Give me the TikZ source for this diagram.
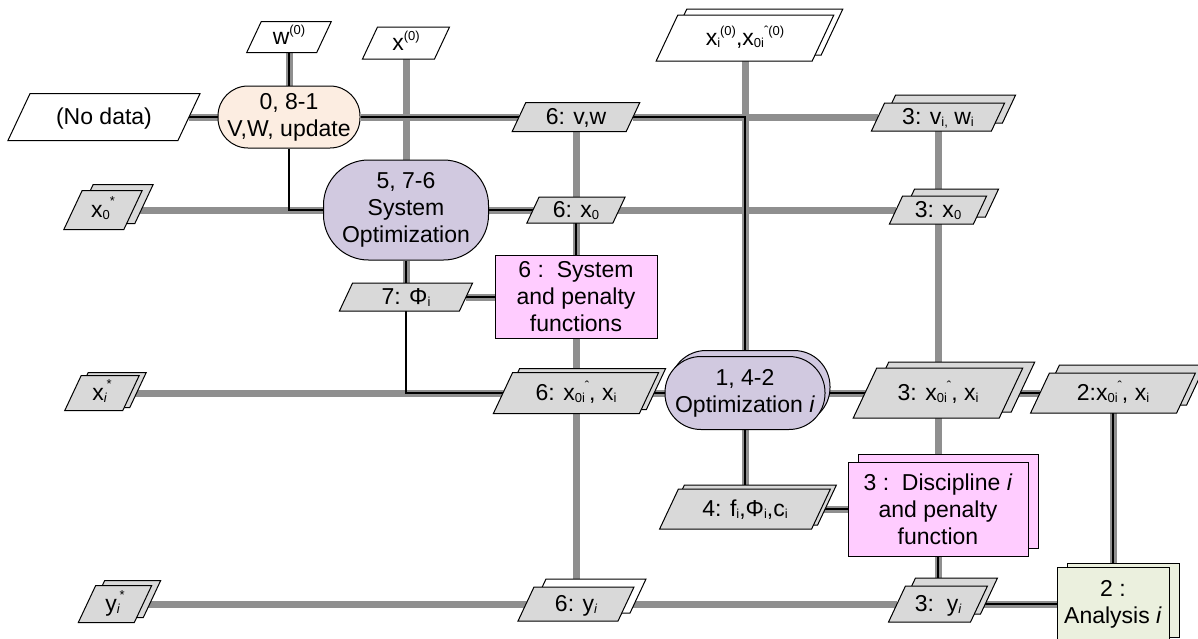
\documentclass[tikz,border=0pt]{standalone}
\usepackage{fontspec}
\setmainfont{Liberation Sans}

\definecolor{datagray}{RGB}{217,217,217}
\definecolor{wiregray}{RGB}{143,143,143}
\definecolor{optlav}{RGB}{209,201,224}
\definecolor{vwpeach}{RGB}{252,237,225}
\definecolor{pinkbox}{RGB}{255,204,255}
\definecolor{anagreen}{RGB}{235,240,222}

\pgfdeclarelayer{wires}
\pgfsetlayers{wires,main}

% small subscript / superscript pieces of the labels
\newcommand\lowtag[1]{\raisebox{-2pt}{\fontsize{13}{13}\selectfont #1}}
\newcommand\hightag[2][10pt]{\raisebox{#1}[0pt][0pt]{\fontsize{13}{13}\selectfont #2}}

\tikzset{
  dataline/.style={draw=wiregray, line width=7pt},
  procline/.style={draw=black, line width=2.5pt},
  thinproc/.style={draw=black, line width=1.8pt},
  paraedge/.style={draw=black, line width=1pt, line join=miter},
  labeltext/.style={inner sep=0pt, text height=16pt, text depth=2pt},
  procbox/.style={draw=black, line width=1pt, align=center, inner sep=0pt},
}

% parallelogram: [extra options] centre x, centre y, half width, half height, fill
\newcommand\slab[6][]{%
  \path[paraedge, fill=#6, #1]
    ({#2-#4+0.47*#5},{#3-#5}) -- ({#2+#4+0.47*#5},{#3-#5}) --
    ({#2+#4-0.47*#5},{#3+#5}) -- ({#2-#4-0.47*#5},{#3+#5}) -- cycle;}
% data block: name, x, y, half width, half height, fill, label
\newcommand\datum[7]{%
  \slab{#2}{#3}{#4}{#5}{#6}
  \node[labeltext, minimum width={2*#4}, minimum height={2*#5}] (#1) at (#2,#3) {#7};}
% stacked data block: name, x, y, half width, half height, shift of the copy, copy fill, fill, label
\newcommand\datastack[9]{%
  \slab[shift={(#6)}]{#2}{#3}{#4}{#5}{#7}
  \datum{#1}{#2}{#3}{#4}{#5}{#8}{#9}}

\begin{document}
\begin{tikzpicture}[x=1pt, y=-1pt, font=\fontsize{23}{27}\selectfont]
\useasboundingbox (0,0) rectangle (1198,638);

% ---- process blocks ----
\node[procbox, fill=vwpeach, minimum width=142, minimum height=62, rounded corners=30]
  (vw) at (289,117) {0, 8-1\\V,W, update};
\node[procbox, fill=optlav, minimum width=165, minimum height=100, rounded corners=45]
  (sysopt) at (406,210) {5, 7-6\\System\\Optimization};
\node[procbox, fill=pinkbox, minimum width=162, minimum height=83]
  (sysfun) at (576,297) {6 :~~System\\and penalty\\functions};
\node[procbox, fill=optlav, minimum width=160, minimum height=73, rounded corners=36]
  (opti-back) at (750,387) {};
\node[procbox, fill=optlav, minimum width=160, minimum height=73, rounded corners=36]
  (opti) at (745,393) {1, 4-2\\Optimization \textit{i}};
\node[procbox, fill=pinkbox, minimum width=180, minimum height=94]
  (disc-back) at (948,501) {};
\node[procbox, fill=pinkbox, minimum width=180, minimum height=94]
  (disc) at (938,509) {3 :~~Discipline \textit{i}\\and penalty\\function};
\node[procbox, fill=anagreen, minimum width=112, minimum height=74]
  (ana-back) at (1123,600) {};
\node[procbox, fill=anagreen, minimum width=112, minimum height=74]
  (ana) at (1113,604) {2 :\\Analysis \textit{i}};

% ---- data blocks ----
\datum{w0}{289}{37}{35}{15.5}{white}{w\hightag{(0)}}
\datum{x0init}{406}{43}{36}{16}{white}{x\hightag{(0)}}
\datastack{xi0init}{745}{38}{78}{23}{9,-6}{white}{white}
  {x\lowtag{i}\hightag{(0)},x\lowtag{0i}\hightag{ˆ(0)}}
\datum{nodata}{104}{117}{85}{23.5}{white}{(No data)}
\datum{vw6}{576}{117}{57}{14.5}{datagray}{6: v,w}
\datastack{vw3}{938}{117}{60}{14}{11,-8}{datagray}{datagray}{3: v\lowtag{i,} w\lowtag{i}}
\datastack{x0star}{103}{210}{30}{19.5}{11,-6}{datagray}{datagray}{x\lowtag{0}\hightag[12pt]{*}}
\datum{x0six}{576}{210}{43}{13}{datagray}{6: x\lowtag{0}}
\datastack{x0three}{938}{210}{42}{14}{12,-7}{datagray}{datagray}{3: x\lowtag{0}}
\datum{phi7}{406}{297}{60}{14}{datagray}{7: Φ\lowtag{i}}
\datastack{xistar}{102}{393}{29}{17.5}{7,-3}{datagray}{datagray}{x\lowtag{\itshape i}\hightag[12pt]{*}}
\datastack{x0isix}{576}{393}{73}{20.5}{7,-4}{datagray}{datagray}
  {6: x\lowtag{0i}\hightag{ˆ}, x\lowtag{i}}
\datastack{x0ithree}{938}{393}{73}{25}{12,-6}{datagray}{datagray}
  {3: x\lowtag{0i}\hightag{ˆ}, x\lowtag{i}}
\datastack{x0itwo}{1113}{393}{73}{20}{10,-8}{datagray}{datagray}
  {2:x\lowtag{0i}\hightag{ˆ}, x\lowtag{i}}
\datastack{f4}{745}{509}{76}{20}{6,-4}{datagray}{datagray}
  {4: f\lowtag{i},Φ\lowtag{i},c\lowtag{i}}
\datastack{yistar}{115}{604}{28}{18.5}{9,-5}{datagray}{datagray}{y\lowtag{\itshape i}\hightag[12pt]{*}}
\datastack{yisix}{576}{604}{50}{17}{12,-8}{white}{datagray}{6: y\lowtag{\itshape i}}
\datastack{yithree}{938}{604}{41}{18}{10,-8}{datagray}{datagray}{3:~~y\lowtag{\itshape i}}

% ---- connectors ----
\begin{pgfonlayer}{wires}
  % data flow
  \draw[dataline] (w0) -- (vw);
  \draw[dataline] (nodata) -- (vw) -- (vw6) -- (vw3);
  \draw[dataline] (xi0init) -- (opti);
  \draw[dataline] (x0init) -- (sysopt);
  \draw[dataline] (vw6) -- (yisix);
  \draw[dataline] (x0star) -- (sysopt) -- (x0three);
  \draw[dataline] (vw3) -- (yithree);
  \draw[dataline] (sysopt) -- (phi7);
  \draw[dataline] (phi7) -- (sysfun);
  \draw[dataline] (xistar) -- (x0itwo);
  \draw[dataline] (opti) -- (f4) -- (disc);
  \draw[dataline] (yistar) -- (yithree) -- (ana);
  \draw[dataline] (x0itwo) -- (ana);
  % process flow
  \draw[procline] (w0) -- (vw);
  \draw[procline] (nodata) -- (vw);
  \draw[procline] (vw) -- (vw6) -| (opti);
  \draw[thinproc] (vw) |- (sysopt);
  \draw[procline] (sysopt) -- (x0six);
  \draw[procline] (x0six) -- (sysfun);
  \draw[procline] (sysopt) -- (phi7);
  \draw[procline] (phi7) -- (sysfun);
  \draw[thinproc] (phi7) |- (x0isix);
  \draw[procline] (x0isix) -- (opti) -- (x0ithree) -- (x0itwo);
  \draw[procline] (opti) -- (f4) -- (disc);
  \draw[procline] (disc) -- (yithree) -- (ana);
  \draw[procline] (x0itwo) -- (ana);
\end{pgfonlayer}
\end{tikzpicture}
\end{document}
